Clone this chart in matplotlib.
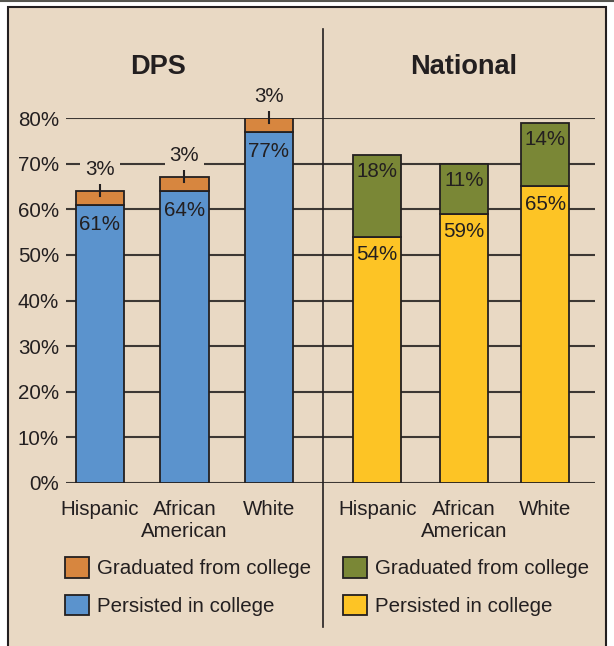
import numpy as np
import matplotlib
matplotlib.use("Agg")
import matplotlib.pyplot as plt
from matplotlib.patches import Patch, Rectangle
from matplotlib.lines import Line2D

plt.rcParams['font.family'] = ['Liberation Sans', 'DejaVu Sans']

# datos
groups = ["Hispanic", "African\nAmerican", "White"]
dps_persisted = [61, 64, 77]
dps_graduated = [3, 3, 3]
nat_persisted = [54, 59, 65]
nat_graduated = [18, 11, 14]
yticks = [0, 10, 20, 30, 40, 50, 60, 70, 80]

# colores
beige = "#e9d9c4"
ink = "#231f20"
blue = "#5b93cd"
orange = "#d7863f"
olive = "#7a8736"
yellow = "#fdc425"
grid = "#3d3834"

W, H = 614, 646
fig = plt.figure(figsize=(W / 100, H / 100), dpi=100, facecolor="white")

# fondo beige con borde
fig.add_artist(Rectangle((8 / W, -0.01), 598 / W, 1 - 7 / H + 0.01, transform=fig.transFigure,
                         facecolor=beige, edgecolor=ink, linewidth=1.5, zorder=-10))
fig.add_artist(Line2D([0, 1], [1 - 1 / H, 1 - 1 / H], transform=fig.transFigure,
                      color="#55554f", linewidth=1.5))

ax = fig.add_axes([66 / W, 1 - 483 / H, 529 / W, 365 / H])
ax.set_facecolor("none")

x_dps = np.array([0, 1, 2])
x_nat = np.array([3.28, 4.31, 5.27])
bw = 0.57
fs = 14.8

ax.bar(x_dps, dps_persisted, bw, color=blue, edgecolor=ink, linewidth=1.3, zorder=3)
ax.bar(x_dps, dps_graduated, bw, bottom=dps_persisted, color=orange, edgecolor=ink, linewidth=1.3, zorder=3)
ax.bar(x_nat, nat_persisted, bw, color=yellow, edgecolor=ink, linewidth=1.3, zorder=3)
ax.bar(x_nat, nat_graduated, bw, bottom=nat_persisted, color=olive, edgecolor=ink, linewidth=1.3, zorder=3)

# etiquetas
for x, p, g in zip(x_dps, dps_persisted, dps_graduated):
    ax.annotate(f"{p}%", (x, p), xytext=(0, -14), textcoords="offset points",
                ha="center", va="center", fontsize=fs, color=ink, zorder=5)
    top = p + g
    ax.plot([x, x], [top - 1, top + 2.8], color=ink, linewidth=1.5, zorder=4, clip_on=False)
    ax.annotate(f"{g}%", (x, top), xytext=(0, 15.5), textcoords="offset points",
                ha="center", va="center", fontsize=fs, color=ink, zorder=5,
                bbox=dict(boxstyle="square,pad=0.25", facecolor=beige, edgecolor="none"))

for x, p, g in zip(x_nat, nat_persisted, nat_graduated):
    ax.annotate(f"{p}%", (x, p), xytext=(0, -13), textcoords="offset points",
                ha="center", va="center", fontsize=fs, color=ink, zorder=5)
    ax.annotate(f"{g}%", (x, p + g), xytext=(0, -12), textcoords="offset points",
                ha="center", va="center", fontsize=fs, color=ink, zorder=5)

ax.set_ylim(0, 80)
ax.set_xlim(-0.402, 5.858)
ax.set_yticks(yticks)
ax.set_yticklabels([f"{t}%" for t in yticks], fontsize=fs, color=ink)
ax.set_xticks(list(x_dps) + list(x_nat))
ax.set_xticklabels(groups + groups, fontsize=fs, color=ink, linespacing=1.25)
ax.tick_params(axis="y", length=0, pad=5)
ax.tick_params(axis="x", length=0, pad=12)
for s in ax.spines.values():
    s.set_visible(False)
ax.grid(axis="y", color=grid, linewidth=1.5, zorder=0)
ax.set_axisbelow(True)

# linea divisoria
ax.axvline(2.64, ymin=-144 / 365, ymax=454 / 365, color=ink, linewidth=1.2, clip_on=False)

# titulos
fig.text(158 / W, 1 - 67 / H, "DPS", ha="center", va="center", fontsize=19.5,
         fontweight="bold", color=ink)
fig.text(464 / W, 1 - 67 / H, "National", ha="center", va="center", fontsize=19.5,
         fontweight="bold", color=ink)

# leyendas
h1 = [Patch(facecolor=orange, edgecolor=ink, linewidth=1.3, label="Graduated from college"),
      Patch(facecolor=blue, edgecolor=ink, linewidth=1.3, label="Persisted in college")]
h2 = [Patch(facecolor=olive, edgecolor=ink, linewidth=1.3, label="Graduated from college"),
      Patch(facecolor=yellow, edgecolor=ink, linewidth=1.3, label="Persisted in college")]
for hs, xl in [(h1, 65), (h2, 343)]:
    fig.legend(handles=hs, loc="upper left", bbox_to_anchor=(xl / W, 1 - 557 / H),
               frameon=False, fontsize=fs, labelcolor=ink, handlelength=1.17,
               handleheight=1.17, handletextpad=0.4, labelspacing=0.8,
               borderpad=0, borderaxespad=0)

fig.savefig("out.png", dpi=100, facecolor="white")
